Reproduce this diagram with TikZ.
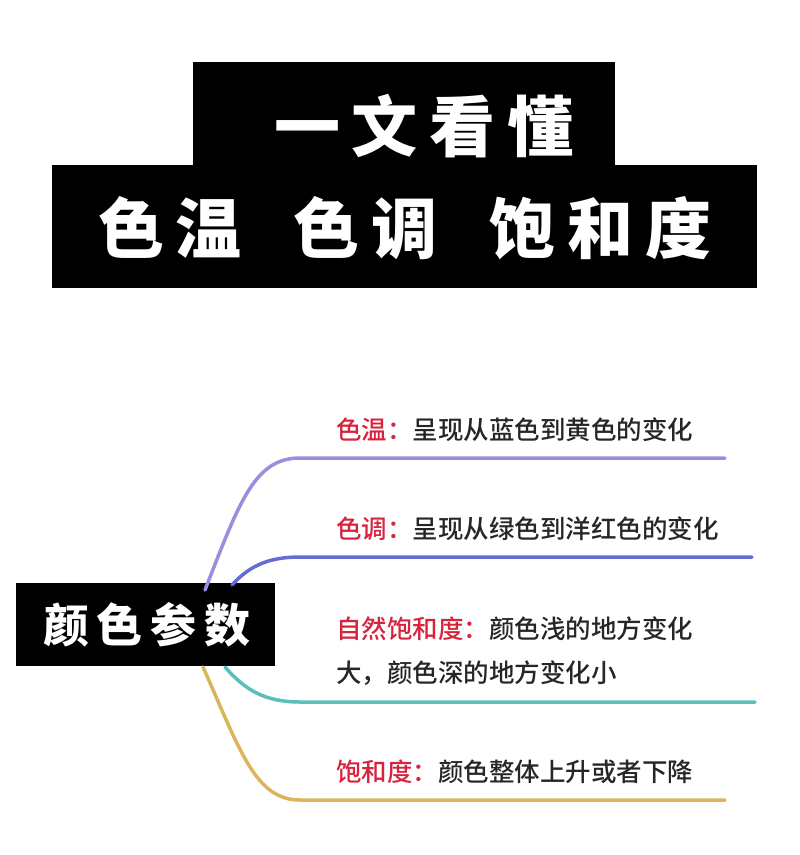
\documentclass[tikz,border=0pt]{standalone}
\usepackage{fontspec}
\newfontfamily\cjk{Noto Sans CJK SC}
\newfontfamily\cjkm{Noto Sans CJK SC Medium}
\begin{document}
\begin{tikzpicture}[x=1pt,y=-1pt,
  title/.style={fill=black,text=white,font=\cjk\bfseries\fontsize{66}{68}\selectfont,inner sep=0pt,anchor=center},
  lbl/.style={anchor=west,font=\cjkm\fontsize{25.5}{44}\selectfont,text=black!85,inner sep=0pt,align=left},
  br/.style={line width=3.5pt,line cap=round}]
\definecolor{cpur}{RGB}{160,140,220}
\definecolor{cblu}{RGB}{100,110,210}
\definecolor{cteal}{RGB}{90,190,185}
\definecolor{cgold}{RGB}{220,180,90}
\definecolor{cred}{RGB}{215,35,60}
\useasboundingbox (0,0) rectangle (800,855);
\fill (193,62) rectangle (615,165);
\fill (52,165) rectangle (757,288);
\node[title] (t1) at (424,126) {一\hspace{12pt}文\hspace{12pt}看\hspace{12pt}懂};
\node[title] (t2) at (405,228) {色\hspace{12pt}温\hspace{52pt}色\hspace{12pt}调\hspace{52pt}饱\hspace{12pt}和\hspace{12pt}度};
\fill (16,583) rectangle (275,666);
\node[title,font=\cjk\bfseries\fontsize{46}{48}\selectfont] (root) at (147,625) {颜\hspace{8pt}色\hspace{8pt}参\hspace{8pt}数};
\coordinate (p1) at (300,458); \coordinate (e1) at (725,458);
\coordinate (p2) at (300,557); \coordinate (e2) at (752,557);
\coordinate (p3) at (300,702); \coordinate (e3) at (755,702);
\coordinate (p4) at (300,800); \coordinate (e4) at (725,800);
\draw[br,cpur] (205,590) .. controls (240,500) and (255,458) .. (p1) -- (e1);
\draw[br,cblu] (232,585) .. controls (250,565) and (270,557) .. (p2) -- (e2);
\draw[br,cteal] (225,667) .. controls (245,690) and (265,702) .. (p3) -- (e3);
\draw[br,cgold] (203,667) .. controls (240,750) and (255,800) .. (p4) -- (e4);
\node[lbl] (l1) at (336,430) {\textcolor{cred}{色温：}呈现从蓝色到黄色的变化};
\node[lbl] (l2) at (336,529) {\textcolor{cred}{色调：}呈现从绿色到洋红色的变化};
\node[lbl] (l3) at (336,651) {\textcolor{cred}{自然饱和度：}颜色浅的地方变化\\大，颜色深的地方变化小};
\node[lbl] (l4) at (336,772) {\textcolor{cred}{饱和度：}颜色整体上升或者下降};
\end{tikzpicture}
\end{document}
